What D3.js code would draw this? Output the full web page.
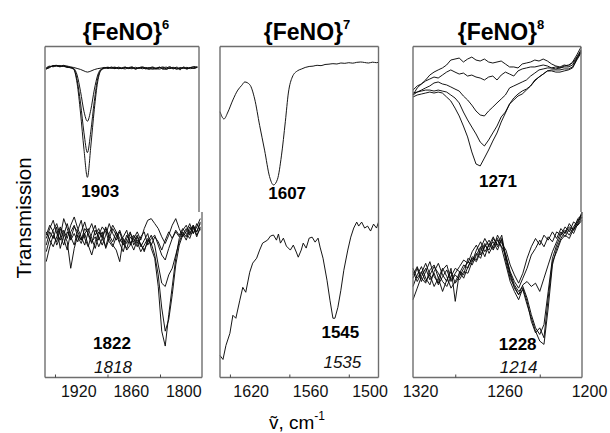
<!DOCTYPE html>
<html>
<head>
<meta charset="utf-8">
<script src="https://cdnjs.cloudflare.com/ajax/libs/d3/7.8.5/d3.min.js"></script>
<style>
body { margin: 0; background: #fff; }
svg { display: block; font-family: "Liberation Sans", Arial, sans-serif; }
.frame line { stroke: #6e6e6e; stroke-width: 1.4; }
.trace { fill: none; stroke: #0a0a0a; stroke-width: 0.95; }
.axis path { display: none; }
.axis text { font-size: 16px; fill: #111; }
.axis line { stroke: #444; }
.peak { font-size: 17px; font-weight: bold; text-anchor: middle; fill: #000; }
.peak.it { font-weight: normal; font-style: italic; fill: #111; }
.title { font-size: 23px; font-weight: bold; text-anchor: middle; }
</style>
</head>
<body>
<div id="chart"></div>
<script>
// ---- data ----

// {FeNO}6 : 1903 band (upper) and 1822/1818 band (lower)
var fe6Wn = [1960, 1956, 1952, 1948, 1944, 1940, 1936, 1932, 1928, 1924, 1920, 1916, 1912, 1908, 1904,
  1900, 1896, 1892, 1888, 1884, 1880, 1876, 1872, 1868, 1864, 1860, 1856, 1852, 1848, 1844,
  1840, 1836, 1832, 1828, 1824, 1820, 1816, 1812, 1808, 1804, 1800, 1796, 1792, 1788, 1784];

var fe6TopA = [86.5, 87.8, 88.6, 88.9, 88.3, 88.7, 87.9, 87.4, 86.5, 78, 60, 38, 21, 40, 62, 79, 86,
  87.2, 87.8, 87.1, 87.6, 86.8, 87.3, 87.9, 86.9, 87.5, 86.6, 87.4, 88.0, 87.2, 86.4, 87.6, 86.9,
  87.8, 86.5, 87.2, 88.1, 86.7, 87.4, 86.2, 87.9, 86.8, 87.5, 88.2, 87.6];
var fe6TopB = [87.0, 88.1, 88.3, 88.7, 88.0, 88.4, 87.6, 87.8, 86.8, 80, 66, 48, 36, 49, 67, 81, 86.2,
  87.5, 87.1, 87.9, 86.9, 87.4, 87.0, 87.6, 87.2, 86.8, 87.7, 87.1, 87.5, 86.7, 87.3, 87.9, 87.0,
  86.6, 87.4, 87.8, 86.9, 87.3, 86.5, 87.6, 87.1, 87.7, 86.9, 87.4, 88.0];
var fe6TopC = [86.8, 87.5, 88.8, 88.5, 88.1, 88.9, 88.2, 87.5, 87.0, 83, 73, 61, 55, 62, 74, 83, 86.5,
  87.0, 87.6, 87.3, 86.9, 87.8, 87.2, 86.7, 87.5, 87.9, 87.0, 87.4, 86.8, 87.6, 87.1, 86.5, 87.3,
  87.7, 87.0, 86.4, 87.5, 87.1, 87.8, 86.8, 87.3, 86.6, 87.5, 87.0, 87.7];
var fe6TopD = [87.3, 88.4, 88.0, 88.6, 88.8, 88.2, 88.5, 87.9, 87.6, 87.0, 86.4, 85.5, 84.8, 85.4, 86.3,
  86.9, 87.2, 87.6, 87.0, 87.4, 87.8, 87.1, 86.9, 87.5, 87.2, 87.8, 86.7, 87.3, 87.6, 86.9, 87.5,
  87.0, 86.6, 87.4, 87.9, 86.8, 87.2, 87.7, 86.8, 87.1, 87.5, 86.9, 87.6, 87.2, 87.8];

var fe6BotA = [80, 88, 84, 91, 78, 86, 93, 85, 80, 89, 95, 84, 79, 87, 92, 83, 88, 78, 84, 90,
  86, 81, 76, 84, 88, 80, 85, 79, 83, 87, 78, 72, 55, 28, 19, 38, 55, 72, 84, 88, 85, 91, 87, 93, 89];
var fe6BotB = [70, 79, 86, 82, 90, 84, 77, 88, 92, 85, 81, 87, 90, 84, 78, 86, 91, 88, 82, 79,
  85, 89, 83, 77, 80, 86, 82, 76, 80, 84, 81, 74, 62, 42, 28, 35, 50, 68, 80, 86, 90, 86, 92, 88, 94];
var fe6BotC = [86, 92, 88, 80, 85, 96, 90, 83, 87, 82, 88, 94, 86, 81, 89, 85, 80, 86, 93, 87,
  83, 88, 81, 78, 85, 82, 86, 80, 77, 82, 86, 80, 68, 57, 55, 62, 66, 74, 82, 87, 83, 89, 92, 86, 90];
var fe6BotD = [84, 90, 95, 87, 83, 89, 84, 92, 97, 90, 85, 80, 88, 93, 86, 90, 84, 79, 87, 92,
  88, 82, 85, 89, 80, 84, 88, 83, 90, 95, 96, 93, 90, 85, 81, 86, 92, 96, 90, 85, 88, 93, 87, 91, 96];
var fe6BotE = [88, 83, 79, 85, 91, 87, 82, 66, 78, 86, 83, 90, 87, 82, 85, 79, 84, 90, 86, 82,
  88, 84, 80, 86, 82, 77, 83, 81, 76, 83, 80, 85, 82, 77, 83, 88, 84, 89, 86, 90, 87, 84, 90, 88, 93];
var fe6BotF = [76, 84, 89, 93, 86, 80, 88, 84, 91, 88, 83, 87, 80, 74, 82, 88, 85, 91, 84, 80,
  77, 70, 84, 81, 87, 84, 79, 85, 88, 80, 84, 86, 80, 74, 71, 78, 84, 88, 85, 89, 92, 87, 91, 85, 91];

// {FeNO}7 : 1607 band (upper) and 1545/1535 band (lower)
var fe7TopWn = [1660, 1656, 1652, 1647, 1642, 1638, 1635, 1630, 1625, 1620, 1615, 1610, 1606, 1602,
  1598, 1594, 1591, 1587, 1582, 1578, 1574, 1570, 1566, 1562, 1558, 1554, 1550, 1546, 1542, 1538,
  1534, 1530, 1526, 1522, 1518, 1514, 1510, 1506, 1502, 1500];
var fe7TopT = [60.8, 56.4, 60.6, 67.9, 73.9, 76.8, 78.8, 77.2, 68.5, 52.5, 37.5, 21.5, 16.4, 19.8,
  34, 55, 72.1, 81.8, 85.5, 86.6, 87.6, 88.2, 88.4, 88.9, 88.7, 89.4, 89.6, 89.9, 89.7, 90.3,
  90.1, 90.5, 90.2, 90.7, 90.9, 90.6, 90.3, 90.8, 90.5, 90.7];

var fe7BotWn = [1660, 1657, 1654, 1650, 1647, 1644, 1640, 1637, 1634, 1630, 1627, 1623, 1620, 1617,
  1612, 1609, 1606, 1603, 1601, 1599, 1596, 1593, 1589, 1586, 1583, 1581, 1578, 1576, 1573, 1570,
  1567, 1564, 1561, 1559, 1556, 1552, 1549, 1546, 1544, 1541, 1538, 1535, 1531, 1528, 1525, 1522,
  1520, 1517, 1514, 1511, 1508, 1505, 1502, 1500];
var fe7BotT = [13.3, 10.9, 19.4, 26.7, 37.6, 35.8, 46.7, 54.5, 51.5, 63.6, 69.1, 72.1, 77, 81.2,
  83, 85.5, 86.1, 83, 86.7, 81.2, 84.2, 79.4, 77, 80, 75.8, 72.7, 77, 81.2, 78.2, 84.2,
  84.8, 81.8, 84.2, 78.8, 72.1, 58.8, 46.7, 35.8, 35.8, 42.4, 52.7, 64.8, 77, 84.8, 90.3, 93.9,
  91.5, 93.9, 90.3, 91.5, 88.5, 92.7, 90.3, 93.9];

// {FeNO}8 : 1271 band (upper) and 1228/1214 band (lower)
var fe8Wn = [1320, 1317, 1314, 1311, 1308, 1305, 1302, 1299, 1296, 1293, 1290, 1287, 1284, 1281,
  1278, 1275, 1272, 1269, 1266, 1263, 1260, 1257, 1254, 1251, 1248, 1245, 1242, 1239, 1236, 1233,
  1230, 1227, 1224, 1221, 1218, 1215, 1212, 1209, 1206, 1203, 1200];

var fe8TopA = [70.9, 75.2, 77.6, 80, 83, 84.8, 86.1, 87.3, 89.1, 92.1, 92.7, 93.3, 90.9, 92.7, 93.9,
  92.1, 91.5, 92.7, 90.9, 90.3, 90.9, 91.5, 89.7, 87.9, 87.9, 87.3, 89.7, 90.3, 90.9, 92.1,
  91.5, 92.7, 91.5, 89.7, 88.5, 87.9, 89.1, 88.5, 90.9, 95.2, 100];
var fe8TopB = [73.9, 76.4, 77.6, 79.4, 80.6, 81.8, 81.2, 83, 84.8, 86.1, 84.8, 83.6, 84.2, 82.4, 83,
  81.8, 81.2, 80, 81.8, 82.4, 80, 83, 84.8, 83.6, 82.4, 85.5, 86.7, 87.3, 87.9, 87.9,
  88.5, 89.1, 88.5, 87.3, 87.9, 87.3, 88.5, 89.1, 90.3, 93.9, 98.2];
var fe8TopC = [70.9, 72.7, 73.9, 75.2, 76.4, 78.2, 78.8, 77.6, 77, 75.8, 74.5, 73.3, 70.3, 67.9, 64.8,
  61.2, 58.8, 58.2, 61.2, 63.6, 66.1, 68.5, 70.9, 75.2, 76.4, 77.6, 78.8, 80, 82.4, 84.2,
  86.1, 86.7, 87.3, 87.3, 86.7, 87.3, 87.9, 87.9, 89.1, 93.3, 97.6];
var fe8TopD = [72.1, 72.7, 73.3, 73.9, 73.9, 73.3, 73.9, 73.3, 72.7, 70.9, 69.1, 66.1, 60.6, 55.8, 51.5,
  47.3, 42.4, 40, 43.6, 47.9, 52.1, 57.6, 60.6, 65.5, 67.9, 70.3, 71.5, 73.9, 76.4, 79.4,
  81.8, 83.6, 85.5, 86.1, 86.1, 86.1, 86.7, 86.7, 87.9, 92.7, 97];
var fe8TopE = [69.7, 70.9, 71.5, 72.1, 72.7, 72.1, 72.7, 72.1, 69.7, 67.3, 63, 58.2, 52.1, 45.5, 36.4,
  29.1, 27.9, 32.7, 37.6, 43, 47.9, 54.5, 60, 65.5, 69.1, 71.5, 73.3, 74.5, 76.4, 80,
  81.8, 83.6, 85.5, 85.5, 84.8, 84.8, 85.5, 86.1, 87.3, 92.1, 96.4];

var fe8BotA = [60, 66, 58, 64, 70, 61, 57, 65, 68, 59, 63, 67, 71, 69, 76, 80, 74, 79, 83, 78,
  86, 81, 77, 68, 62, 57, 63, 72, 79, 84, 80, 86, 83, 88, 84, 90, 87, 93, 89, 96, 98];
var fe8BotB = [55, 62, 67, 60, 56, 64, 69, 62, 58, 66, 46, 64, 62, 72, 70, 77, 82, 76, 80, 85,
  79, 83, 73, 64, 58, 54, 60, 66, 74, 78, 83, 79, 85, 82, 88, 86, 91, 88, 94, 92, 97];
var fe8BotC = [64, 58, 63, 69, 62, 55, 60, 66, 61, 54, 58, 63, 68, 66, 73, 71, 78, 84, 79, 82,
  77, 84, 70, 60, 55, 50, 56, 58, 55, 57, 52, 60, 68, 76, 82, 88, 85, 90, 87, 93, 99];
var fe8BotD = [62, 67, 60, 57, 65, 68, 60, 52, 59, 64, 57, 61, 66, 70, 68, 74, 79, 73, 81, 77,
  83, 79, 74, 63, 56, 52, 55, 48, 38, 30, 26, 32, 52, 72, 80, 86, 89, 86, 91, 95, 97];
var fe8BotE = [47, 54, 61, 66, 59, 63, 56, 61, 65, 58, 62, 59, 64, 63, 70, 75, 72, 80, 77, 84,
  80, 86, 72, 62, 54, 50, 53, 44, 36, 28, 22, 20, 42, 68, 78, 84, 88, 91, 89, 94, 100];
var fe8BotF = [66, 60, 64, 58, 62, 67, 63, 58, 55, 61, 66, 64, 60, 67, 72, 70, 76, 81, 75, 80,
  84, 78, 68, 58, 52, 47, 54, 46, 34, 27, 30, 24, 48, 70, 76, 83, 86, 84, 90, 92, 95];

// axis ticks
var fe6Major = [1920, 1860, 1800], fe6Minor = [1950, 1890, 1830];
var fe7Major = [1620, 1560, 1500], fe7Minor = [1650, 1590, 1530];
var fe8Major = [1320, 1260, 1200], fe8Minor = [1290, 1230];

// peak labels: text, wavenumber, transmission, half, italic
var fe6Notes = [['1903', 1897, 9, 'top', false], ['1822', 1884.8, 17, 'bot', false], ['1818', 1883.7, 3, 'bot', true]];
var fe7Notes = [['1607', 1592.2, 8, 'top', false], ['1545', 1538.5, 24, 'bot', false], ['1535', 1536.5, 6, 'bot', true]];
var fe8Notes = [['1271', 1259.3, 15, 'top', false], ['1228', 1245.7, 16.4, 'bot', false], ['1214', 1245, 3, 'bot', true]];

// ---- layout ----
var W = 610, H = 433;
var boxTop = 46.5, boxMid = 212, boxBot = 377.5;

var panels = [
  { sup: '6', titleX: 126, domain: [1961.4, 1782], x0: 45, x1Top: 199, x1Bot: 202, labelDx: -3,
    topWn: fe6Wn, topTraces: [fe6TopA, fe6TopB, fe6TopC, fe6TopD], smoothTop: true,
    botWn: fe6Wn, botTraces: [fe6BotA, fe6BotB, fe6BotC, fe6BotD, fe6BotE, fe6BotF],
    major: fe6Major, minor: fe6Minor, notes: fe6Notes },
  { sup: '7', titleX: 307, domain: [1660, 1500], x0: 220, x1Top: 378.5, x1Bot: 378.5, labelDx: -9,
    topWn: fe7TopWn, topTraces: [fe7TopT], smoothTop: true,
    botWn: fe7BotWn, botTraces: [fe7BotT],
    major: fe7Major, minor: fe7Minor, notes: fe7Notes },
  { sup: '8', titleX: 501, domain: [1320, 1200], x0: 413, x1Top: 581, x1Bot: 582, labelDx: 7,
    topWn: fe8Wn, topTraces: [fe8TopA, fe8TopB, fe8TopC, fe8TopD, fe8TopE], smoothTop: false,
    botWn: fe8Wn, botTraces: [fe8BotA, fe8BotB, fe8BotC, fe8BotD, fe8BotE, fe8BotF],
    major: fe8Major, minor: fe8Minor, notes: fe8Notes }
];

var svg = d3.select('#chart').append('svg').attr('width', W).attr('height', H);

var yTop = d3.scaleLinear().domain([0, 100]).range([boxMid, boxTop + 0.5]);
var yBot = d3.scaleLinear().domain([0, 100]).range([boxBot, boxMid]);

panels.forEach(function (p) {
  var xTop = d3.scaleLinear().domain(p.domain).range([p.x0, p.x1Top]);
  var xBot = d3.scaleLinear().domain(p.domain).range([p.x0, p.x1Bot]);
  var g = svg.append('g');

  // spectra
  var lineTop = d3.line()
    .x(function (d) { return xTop(d[0]); })
    .y(function (d) { return yTop(d[1]); })
    .curve(p.smoothTop ? d3.curveMonotoneX : d3.curveLinear);
  var lineBot = d3.line()
    .x(function (d) { return xBot(d[0]); })
    .y(function (d) { return yBot(d[1]); });

  g.selectAll('path.top').data(p.topTraces).enter().append('path')
    .attr('class', 'trace top')
    .attr('d', function (t) { return lineTop(d3.zip(p.topWn, t)); });
  g.selectAll('path.bot').data(p.botTraces).enter().append('path')
    .attr('class', 'trace bot')
    .attr('d', function (t) { return lineBot(d3.zip(p.botWn, t)); });

  // frame
  var fr = g.append('g').attr('class', 'frame');
  var segs = [
    [p.x0, boxTop, p.x1Top, boxTop],
    [p.x0, boxTop, p.x0, boxBot],
    [p.x1Top, boxTop, p.x1Top, boxMid],
    [p.x1Bot, boxMid, p.x1Bot, boxBot],
    [p.x0, boxBot, p.x1Bot, boxBot]
  ];
  fr.selectAll('line').data(segs).enter().append('line')
    .attr('x1', function (s) { return s[0]; }).attr('y1', function (s) { return s[1]; })
    .attr('x2', function (s) { return s[2]; }).attr('y2', function (s) { return s[3]; });

  // axis
  g.append('g').attr('class', 'axis')
    .attr('transform', 'translate(0,' + boxBot + ')')
    .call(d3.axisBottom(xBot).tickValues(p.major).tickSize(0).tickPadding(8).tickFormat(d3.format('d')))
    .selectAll('text').attr('dx', p.labelDx);
  g.append('g').attr('class', 'axis')
    .attr('transform', 'translate(0,' + boxBot + ')')
    .call(d3.axisBottom(xBot).tickValues(p.minor).tickSizeInner(-3).tickSizeOuter(0).tickFormat(''));

  // peak labels
  g.selectAll('text.peak').data(p.notes).enter().append('text')
    .attr('class', function (n) { return n[4] ? 'peak it' : 'peak'; })
    .attr('x', function (n) { return (n[3] === 'top' ? xTop : xBot)(n[1]); })
    .attr('y', function (n) { return (n[3] === 'top' ? yTop : yBot)(n[2]); })
    .text(function (n) { return n[0]; });

  // title
  var tt = svg.append('text').attr('class', 'title').attr('x', p.titleX).attr('y', 40);
  tt.append('tspan').text('{FeNO}');
  tt.append('tspan').attr('dy', -11).attr('font-size', 13).text(p.sup);
});

// axis titles
svg.append('text')
  .attr('transform', 'translate(31,218) rotate(-90)')
  .attr('text-anchor', 'middle')
  .attr('font-size', 20.5)
  .text('Transmission');

var xl = svg.append('text').attr('x', 297).attr('y', 429)
  .attr('text-anchor', 'middle').attr('font-size', 19);
xl.append('tspan').text('\u1E7D, cm');
xl.append('tspan').attr('dy', -9).attr('font-size', 12).text('-1');
</script>
</body>
</html>
